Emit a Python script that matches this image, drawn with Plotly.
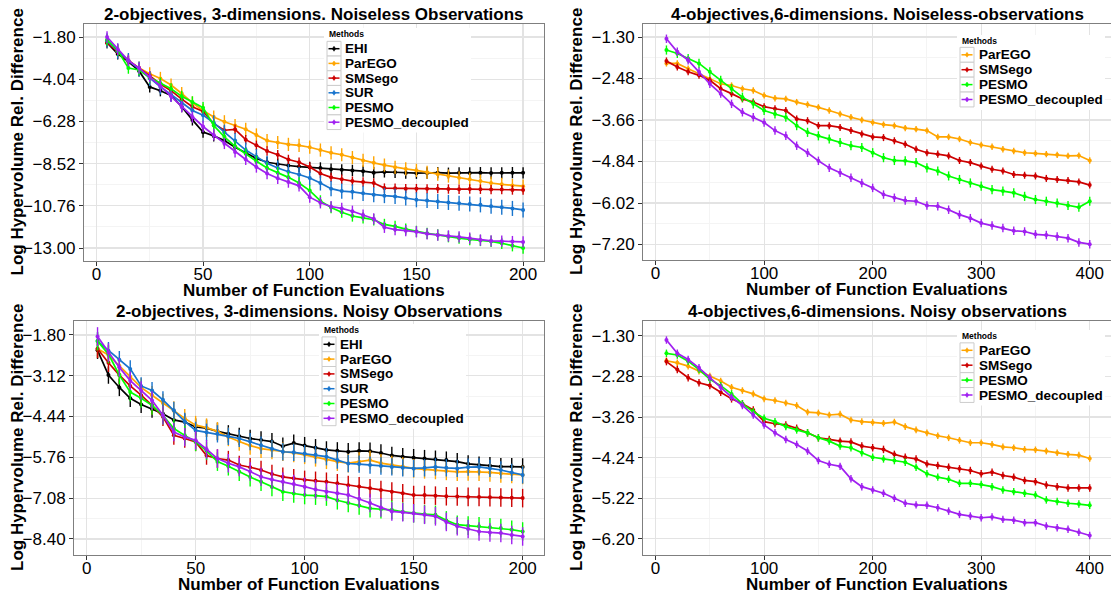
import plotly.graph_objects as go

# ---------------- data ----------------
METHODS_2OBJ = ["EHI", "ParEGO", "SMSego", "SUR", "PESMO", "PESMO_decoupled"]
METHODS_4OBJ = ["ParEGO", "SMSego", "PESMO", "PESMO_decoupled"]

X_2OBJ = list(range(5, 201, 5))      # function evaluations, 2-objective problems
X_4OBJ = list(range(10, 401, 10))    # function evaluations, 4-objective problems

# 2-objectives, 3-dimensions, noiseless
NL2_EHI = [-2.10,-2.70,-3.10,-3.60,-4.45,-4.65,-4.90,-5.50,-6.20,-6.85,-7.05,-7.30,-7.65,-7.95,-8.25,-8.45,-8.55,-8.62,-8.68,-8.72,
           -8.75,-8.82,-8.85,-8.88,-8.92,-9.00,-8.96,-8.98,-9.02,-9.03,-9.02,-9.00,-9.03,-9.01,-9.02,-9.00,-9.02,-9.01,-9.00,-9.01]
NL2_PAREGO = [-2.05,-2.55,-3.05,-3.45,-3.75,-4.00,-4.35,-4.80,-5.30,-5.70,-6.05,-6.30,-6.50,-6.70,-7.00,-7.30,-7.40,-7.50,-7.55,-7.65,
              -7.80,-7.95,-8.05,-8.20,-8.35,-8.48,-8.60,-8.72,-8.80,-8.88,-8.98,-9.08,-9.18,-9.27,-9.35,-9.45,-9.55,-9.62,-9.68,-9.72]
NL2_SMSEGO = [-2.10,-2.60,-3.05,-3.45,-3.85,-4.30,-4.65,-5.10,-5.50,-5.75,-6.40,-6.75,-6.70,-7.25,-7.55,-7.85,-8.05,-8.30,-8.45,-8.70,
              -9.05,-9.25,-9.35,-9.45,-9.50,-9.55,-9.82,-9.83,-9.85,-9.85,-9.86,-9.85,-9.87,-9.88,-9.87,-9.88,-9.90,-9.90,-9.92,-9.92]
NL2_SUR = [-2.00,-2.55,-3.05,-3.50,-4.00,-4.45,-4.85,-5.30,-5.70,-5.95,-6.35,-6.85,-7.30,-7.80,-8.15,-8.50,-8.75,-8.95,-9.10,-9.28,
           -9.55,-9.85,-9.98,-10.02,-10.10,-10.17,-10.22,-10.26,-10.35,-10.44,-10.48,-10.53,-10.58,-10.62,-10.66,-10.71,-10.78,-10.84,-10.90,-10.98]
NL2_PESMO = [-1.95,-2.50,-3.45,-3.55,-3.95,-4.25,-4.55,-4.95,-5.25,-5.55,-6.50,-7.10,-7.60,-8.00,-8.40,-8.75,-9.00,-9.25,-9.55,-9.95,
             -10.50,-10.85,-11.10,-11.30,-11.40,-11.50,-11.75,-11.85,-12.00,-12.12,-12.22,-12.30,-12.40,-12.48,-12.55,-12.60,-12.65,-12.75,-12.88,-13.00]
NL2_PESMO_DEC = [-1.80,-2.45,-3.05,-3.45,-3.90,-4.40,-4.95,-5.50,-6.05,-6.55,-7.00,-7.45,-7.90,-8.30,-8.70,-9.05,-9.30,-9.50,-9.70,-10.30,
                 -10.60,-10.80,-10.90,-11.05,-11.25,-11.45,-11.90,-12.02,-12.08,-12.14,-12.25,-12.32,-12.36,-12.41,-12.48,-12.58,-12.62,-12.64,-12.66,-12.68]

# 2-objectives, 3-dimensions, noisy
NY2_EHI = [-2.30,-3.10,-3.50,-3.85,-4.05,-4.20,-4.35,-4.55,-4.62,-4.78,-4.82,-4.92,-5.00,-5.08,-5.15,-5.20,-5.25,-5.40,-5.30,-5.38,
           -5.45,-5.52,-5.55,-5.58,-5.55,-5.56,-5.62,-5.70,-5.74,-5.77,-5.80,-5.82,-5.85,-5.90,-5.97,-6.01,-6.03,-6.06,-6.06,-6.07]
NY2_PAREGO = [-2.25,-2.45,-2.80,-3.15,-3.50,-3.75,-4.00,-4.25,-4.50,-4.72,-4.80,-4.92,-5.10,-5.25,-5.38,-5.48,-5.52,-5.58,-5.62,-5.68,
              -5.76,-5.84,-5.90,-5.95,-5.90,-5.85,-5.95,-6.01,-6.06,-6.12,-6.15,-6.17,-6.20,-6.23,-6.22,-6.23,-6.25,-6.28,-6.30,-6.33]
NY2_SMSEGO = [-2.25,-2.70,-3.10,-3.45,-3.75,-4.08,-4.45,-5.05,-5.15,-5.26,-5.70,-5.80,-5.85,-6.01,-6.08,-6.17,-6.30,-6.39,-6.44,-6.49,
              -6.52,-6.55,-6.60,-6.66,-6.70,-6.76,-6.82,-6.87,-6.92,-6.98,-6.98,-7.00,-7.02,-7.03,-7.04,-7.04,-7.05,-7.06,-7.07,-7.08]
NY2_SUR = [-2.00,-2.31,-2.60,-2.90,-3.45,-3.60,-3.90,-4.24,-4.60,-4.89,-4.95,-5.00,-5.08,-5.15,-5.25,-5.37,-5.48,-5.58,-5.60,-5.64,
           -5.68,-5.74,-5.85,-5.96,-5.98,-6.01,-6.04,-6.07,-6.10,-6.12,-6.10,-6.07,-6.10,-6.12,-6.08,-6.07,-6.12,-6.17,-6.25,-6.33]
NY2_PESMO = [-2.00,-2.42,-3.10,-3.65,-3.85,-4.08,-4.40,-4.83,-5.05,-5.26,-5.55,-5.90,-6.05,-6.23,-6.40,-6.55,-6.72,-6.87,-6.93,-6.98,
             -7.00,-7.03,-7.15,-7.24,-7.32,-7.41,-7.44,-7.46,-7.52,-7.57,-7.60,-7.62,-7.80,-7.94,-7.97,-7.99,-8.02,-8.05,-8.10,-8.16]
NY2_PESMO_DEC = [-1.85,-2.37,-2.85,-3.28,-3.60,-3.92,-4.40,-4.94,-5.10,-5.21,-5.50,-5.80,-5.95,-6.07,-6.22,-6.39,-6.48,-6.55,-6.62,-6.71,
                 -6.80,-6.87,-6.92,-6.98,-7.10,-7.24,-7.38,-7.51,-7.54,-7.57,-7.62,-7.67,-7.85,-7.99,-8.08,-8.16,-8.19,-8.21,-8.27,-8.32]

# 4-objectives, 6-dimensions, noiseless
NL4_PAREGO = [-2.05,-2.05,-2.20,-2.34,-2.50,-2.63,-2.68,-2.77,-2.82,-2.96,-3.04,-3.06,-3.15,-3.22,-3.30,-3.39,-3.49,-3.58,-3.66,-3.73,
              -3.79,-3.82,-3.89,-3.92,-3.96,-4.14,-4.14,-4.20,-4.30,-4.37,-4.42,-4.49,-4.54,-4.59,-4.61,-4.63,-4.65,-4.68,-4.67,-4.81]
NL4_SMSEGO = [-1.98,-2.15,-2.29,-2.39,-2.53,-2.77,-2.91,-3.06,-3.15,-3.28,-3.34,-3.39,-3.63,-3.68,-3.82,-3.82,-3.87,-3.96,-4.06,-4.14,
              -4.16,-4.25,-4.35,-4.49,-4.59,-4.63,-4.68,-4.81,-4.87,-4.97,-5.06,-5.11,-5.21,-5.23,-5.25,-5.32,-5.35,-5.38,-5.42,-5.51]
NL4_PESMO = [-1.67,-1.77,-1.91,-2.05,-2.29,-2.53,-2.77,-3.01,-3.20,-3.39,-3.49,-3.58,-3.82,-4.01,-4.11,-4.20,-4.30,-4.39,-4.44,-4.59,
             -4.73,-4.81,-4.82,-4.87,-5.02,-5.11,-5.25,-5.35,-5.45,-5.54,-5.64,-5.68,-5.73,-5.83,-5.92,-5.97,-6.02,-6.09,-6.14,-5.97]
NL4_PESMO_DEC = [-1.35,-1.72,-1.96,-2.29,-2.63,-2.91,-3.20,-3.44,-3.58,-3.73,-3.96,-4.11,-4.39,-4.59,-4.82,-5.02,-5.16,-5.30,-5.45,-5.59,
                 -5.78,-5.87,-5.95,-5.97,-6.09,-6.11,-6.21,-6.35,-6.45,-6.59,-6.66,-6.73,-6.81,-6.83,-6.91,-6.93,-6.97,-7.02,-7.14,-7.19]

# 4-objectives, 6-dimensions, noisy
NY4_PAREGO = [-1.90,-1.95,-2.03,-2.15,-2.27,-2.39,-2.54,-2.62,-2.70,-2.82,-2.86,-2.92,-2.98,-3.14,-3.16,-3.21,-3.19,-3.33,-3.37,-3.39,
              -3.41,-3.38,-3.49,-3.57,-3.64,-3.71,-3.76,-3.82,-3.88,-3.88,-3.92,-3.98,-4.00,-4.04,-4.05,-4.08,-4.12,-4.16,-4.18,-4.26]
NY4_SMSEGO = [-1.92,-2.11,-2.31,-2.43,-2.50,-2.66,-2.82,-2.94,-3.09,-3.37,-3.42,-3.45,-3.53,-3.64,-3.76,-3.80,-3.84,-3.86,-3.96,-4.00,
              -4.04,-4.16,-4.23,-4.27,-4.39,-4.43,-4.47,-4.51,-4.55,-4.63,-4.59,-4.67,-4.71,-4.79,-4.82,-4.90,-4.94,-4.97,-4.97,-4.97]
NY4_PESMO = [-1.72,-1.76,-1.91,-2.11,-2.35,-2.50,-2.70,-2.94,-3.13,-3.29,-3.37,-3.49,-3.57,-3.64,-3.76,-3.84,-3.96,-4.00,-4.12,-4.23,
             -4.27,-4.31,-4.35,-4.47,-4.63,-4.71,-4.76,-4.86,-4.86,-4.89,-4.94,-5.02,-5.06,-5.10,-5.14,-5.26,-5.30,-5.34,-5.36,-5.39]
NY4_PESMO_DEC = [-1.40,-1.72,-1.87,-2.07,-2.31,-2.54,-2.78,-2.98,-3.21,-3.45,-3.64,-3.80,-3.92,-4.08,-4.31,-4.40,-4.45,-4.75,-4.94,-5.02,
                 -5.10,-5.22,-5.34,-5.38,-5.39,-5.45,-5.53,-5.61,-5.65,-5.69,-5.67,-5.73,-5.75,-5.81,-5.81,-5.89,-5.93,-5.97,-6.04,-6.12]

# half-width of the error bars per method (per panel)
ERR_NL2 = {"EHI": 0.30, "ParEGO": 0.35, "SMSego": 0.25, "SUR": 0.40, "PESMO": 0.30, "PESMO_decoupled": 0.30}
ERR_NY2 = {"EHI": 0.28, "ParEGO": 0.30, "SMSego": 0.30, "SUR": 0.28, "PESMO": 0.30, "PESMO_decoupled": 0.30}
ERR_NL4 = {"ParEGO": 0.09, "SMSego": 0.10, "PESMO": 0.13, "PESMO_decoupled": 0.12}
ERR_NY4 = {"ParEGO": 0.08, "SMSego": 0.09, "PESMO": 0.09, "PESMO_decoupled": 0.09}

TITLES = ["2-objectives, 3-dimensions. Noiseless Observations",
          "4-objectives,6-dimensions. Noiseless-observations",
          "2-objectives, 3-dimensions. Noisy Observations",
          "4-objectives,6-dimensions. Noisy observations"]
LEGEND_TITLE = "Methods"
X_TITLE = "Number of Function Evaluations"
Y_TITLE = "Log Hypervolume Rel. Difference"

COLORS = {"EHI": "#000000", "ParEGO": "#FFA500", "SMSego": "#CD0000",
          "SUR": "#1874CD", "PESMO": "#00FF00", "PESMO_decoupled": "#A020F0"}

FONT = "Liberation Sans, Arial, Helvetica, sans-serif"
W, H = 1111, 593

# layout of each panel (pixels): plot box, axis ranges, tick spacing, legend placement
panels = [
    dict(data={"EHI": NL2_EHI, "ParEGO": NL2_PAREGO, "SMSego": NL2_SMSEGO, "SUR": NL2_SUR,
               "PESMO": NL2_PESMO, "PESMO_decoupled": NL2_PESMO_DEC},
         methods=METHODS_2OBJ, x=X_2OBJ, err=ERR_NL2, title=TITLES[0],
         box=(84, 544, 24, 261), xr=[-5.8, 209.8], xd=50, yr=[-13.69, -1.11], y0=-1.80, yd=2.24,
         leg=dict(kx=327, ty=34, r0=48.7, dy=14.7, tx=343)),
    dict(data={"ParEGO": NL4_PAREGO, "SMSego": NL4_SMSEGO, "PESMO": NL4_PESMO, "PESMO_decoupled": NL4_PESMO_DEC},
         methods=METHODS_4OBJ, x=X_4OBJ, err=ERR_NL4, title=TITLES[1],
         box=(643, 1111, 24, 260), xr=[-11.6, 419.6], xd=100, yr=[-7.64, -0.93], y0=-1.30, yd=1.18,
         leg=dict(kx=960, ty=41, r0=54.8, dy=14.9, tx=977)),
    dict(data={"EHI": NY2_EHI, "ParEGO": NY2_PAREGO, "SMSego": NY2_SMSEGO, "SUR": NY2_SUR,
               "PESMO": NY2_PESMO, "PESMO_decoupled": NY2_PESMO_DEC},
         methods=METHODS_2OBJ, x=X_2OBJ, err=ERR_NY2, title=TITLES[2],
         box=(74, 544, 321, 555), xr=[-5.8, 209.8], xd=50, yr=[-8.92, -1.35], y0=-1.80, yd=1.32,
         leg=dict(kx=322, ty=330, r0=344.3, dy=14.8, tx=338)),
    dict(data={"ParEGO": NY4_PAREGO, "SMSego": NY4_SMSEGO, "PESMO": NY4_PESMO, "PESMO_decoupled": NY4_PESMO_DEC},
         methods=METHODS_4OBJ, x=X_4OBJ, err=ERR_NY4, title=TITLES[3],
         box=(643, 1111, 321, 555), xr=[-11.6, 419.6], xd=100, yr=[-6.59, -0.94], y0=-1.30, yd=0.98,
         leg=dict(kx=960, ty=336, r0=350.3, dy=14.9, tx=977)),
]


def px(x):
    return x / W


def py(y):
    return 1 - y / H


fig = go.Figure()
layout_axes = {}
annotations = []
shapes = []

for i, p in enumerate(panels):
    k = "" if i == 0 else str(i + 1)
    xref, yref = "x" + k, "y" + k
    l, r, t, b = p["box"]
    xdom = [px(l), min(px(r), 1.0)]
    ydom = [py(b), py(t)]

    for m in p["methods"]:
        c = COLORS[m]
        fig.add_trace(go.Scatter(
            x=p["x"], y=p["data"][m], name=m, mode="lines+markers",
            line=dict(color=c, width=1.7), marker=dict(size=4, color=c),
            error_y=dict(type="constant", value=p["err"][m], color=c, thickness=1.4, width=0),
            xaxis=xref, yaxis=yref, showlegend=False))

    common = dict(showline=True, mirror=True, linecolor="#7f7f7f", linewidth=1,
                  showgrid=True, gridcolor="#e3e3e3", gridwidth=1.2, zeroline=False,
                  ticks="outside", ticklen=4, tickcolor="#333333", tickwidth=1,
                  tickfont=dict(family=FONT, size=17, color="#000000"),
                  tickmode="linear", fixedrange=True, automargin=False)
    layout_axes["xaxis" + k] = dict(common, domain=xdom, range=p["xr"], anchor=yref,
                                    tick0=0, dtick=p["xd"], ticklabelstandoff=-6,
                                    minor=dict(tick0=0, dtick=p["xd"] / 2, showgrid=True,
                                               gridcolor="#f4f4f4", gridwidth=1, ticks=""))
    layout_axes["yaxis" + k] = dict(common, domain=ydom, range=p["yr"], anchor=xref,
                                    tick0=p["y0"], dtick=p["yd"], tickformat=".2f",
                                    minor=dict(tick0=p["y0"], dtick=p["yd"] / 2, showgrid=True,
                                               gridcolor="#f4f4f4", gridwidth=1, ticks=""))

    cx = (l + r) / 2
    annotations.append(dict(text="<b>%s</b>" % p["title"], x=px(cx), y=py(t - 10),
                            xref="paper", yref="paper", showarrow=False,
                            xanchor="center", yanchor="middle",
                            font=dict(family=FONT, size=17, color="#000000")))
    annotations.append(dict(text="<b>%s</b>" % X_TITLE, x=px(cx), y=py(b + 29),
                            xref="paper", yref="paper", showarrow=False,
                            xanchor="center", yanchor="middle",
                            font=dict(family=FONT, size=17, color="#000000")))
    ytx = 17 if l < 300 else 576
    annotations.append(dict(text="<b>%s</b>" % Y_TITLE, x=px(ytx), y=py((t + b) / 2),
                            xref="paper", yref="paper", showarrow=False, textangle=-90,
                            xanchor="center", yanchor="middle",
                            font=dict(family=FONT, size=17, color="#000000")))

    # ggplot-style legend (white box, grey key squares, line + point + error glyph)
    lg = p["leg"]
    n = len(p["methods"])
    kx, ty, r0, dy, tx = lg["kx"], lg["ty"], lg["r0"], lg["dy"], lg["tx"]
    shapes.append(dict(type="rect", xref="paper", yref="paper", layer="above",
                       x0=px(kx - 3), x1=px(tx + 128), y0=py(ty - 6), y1=py(r0 + (n - 1) * dy + dy / 2 + 3),
                       fillcolor="white", line=dict(width=0)))
    annotations.append(dict(text="<b>%s</b>" % LEGEND_TITLE, x=px(kx), y=py(ty),
                            xref="paper", yref="paper", showarrow=False,
                            xanchor="left", yanchor="middle",
                            font=dict(family=FONT, size=8.5, color="#000000")))
    for j, m in enumerate(p["methods"]):
        c = COLORS[m]
        yc = r0 + j * dy
        shapes.append(dict(type="rect", xref="paper", yref="paper", layer="above",
                           x0=px(kx), x1=px(kx + 14), y0=py(yc - dy / 2), y1=py(yc + dy / 2),
                           fillcolor="white", line=dict(color="#cccccc", width=1)))
        shapes.append(dict(type="line", xref="paper", yref="paper", layer="above",
                           x0=px(kx + 1.5), x1=px(kx + 12.5), y0=py(yc), y1=py(yc),
                           line=dict(color=c, width=1.5)))
        shapes.append(dict(type="line", xref="paper", yref="paper", layer="above",
                           x0=px(kx + 7), x1=px(kx + 7), y0=py(yc - 2.5), y1=py(yc + 2.5),
                           line=dict(color=c, width=1.2)))
        shapes.append(dict(type="circle", xref="paper", yref="paper", layer="above",
                           x0=px(kx + 5.5), x1=px(kx + 8.5), y0=py(yc - 1.5), y1=py(yc + 1.5),
                           fillcolor=c, line=dict(color=c, width=0.5)))
        annotations.append(dict(text="<b>%s</b>" % m, x=px(tx), y=py(yc),
                                xref="paper", yref="paper", showarrow=False,
                                xanchor="left", yanchor="middle",
                                font=dict(family=FONT, size=13.5, color="#000000")))

fig.update_layout(
    width=W, height=H, autosize=False,
    margin=dict(l=0, r=0, t=0, b=0, pad=0, autoexpand=False),
    paper_bgcolor="white", plot_bgcolor="white",
    font=dict(family=FONT, color="#000000"),
    showlegend=False,
    annotations=annotations, shapes=shapes,
    **layout_axes)

# remove the browser's default page margin so the figure sits at the window origin
fig.write_html("out.html",
               config={"displayModeBar": False, "staticPlot": True},
               post_script="document.body.style.margin='0px';document.body.style.overflow='hidden';")
